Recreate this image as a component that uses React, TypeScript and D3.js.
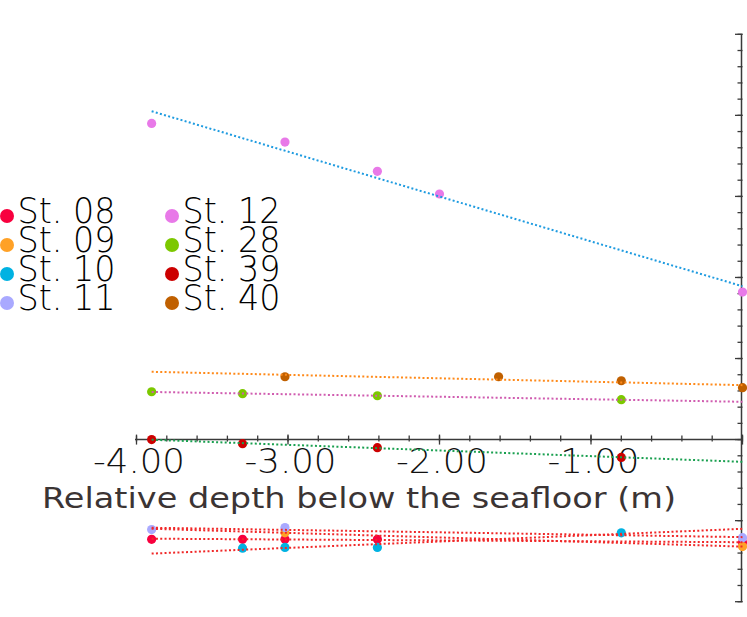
import React from "react";
import * as d3 from "d3";

const W = 747;
const H = 617;

const seriesNames = ["St. 08", "St. 09", "St. 10", "St. 11", "St. 12", "St. 28", "St. 39", "St. 40"];
const pointColors = ["#F8003E", "#FFA126", "#00B2E2", "#A9A9FF", "#E879E8", "#7CC800", "#CC0000", "#C06000"];
const trendColors = ["#F02828", "#F02828", "#F02828", "#F02828", "#1E9BE0", "#D05CB0", "#1AA050", "#FF8A1A"];

// depth (m), value
const st08: [number, number][] = [[-3.9, -1.23], [-3.3, -1.23], [-3.02, -1.23], [-2.41, -1.23], [0, -1.27]];
const st09: [number, number][] = [[-3.02, -1.15], [0, -1.32]];
const st10: [number, number][] = [[-3.3, -1.34], [-3.02, -1.33], [-2.41, -1.33], [-0.8, -1.15]];
const st11: [number, number][] = [[-3.9, -1.11], [-3.02, -1.085], [0, -1.21]];
const st12: [number, number][] = [[-3.9, 3.9], [-3.02, 3.67], [-2.41, 3.31], [-2.0, 3.03], [0, 1.82]];
const st28: [number, number][] = [[-3.9, 0.59], [-3.3, 0.566], [-2.41, 0.541], [-0.8, 0.492]];
const st39: [number, number][] = [[-3.9, 0.0], [-3.3, -0.05], [-2.41, -0.1], [-0.8, -0.22]];
const st40: [number, number][] = [[-3.02, 0.775], [-1.61, 0.775], [-0.8, 0.726], [0, 0.64]];

const allSeries = [st08, st09, st10, st11, st12, st28, st39, st40];
const xTickLabels = ["-4.00", "-3.00", "-2.00", "-1.00"];

function regress(pts: [number, number][]) {
  const mx = d3.mean(pts, (p) => p[0]) as number;
  const my = d3.mean(pts, (p) => p[1]) as number;
  let sxy = 0, sxx = 0;
  pts.forEach(([x, y]) => { sxy += (x - mx) * (y - my); sxx += (x - mx) * (x - mx); });
  const b = sxy / sxx;
  return (x: number) => my + b * (x - mx);
}

export default function App() {
  const x = d3.scaleLinear().domain([-4, 0]).range([136.5, 742.5]);
  const y = d3.scaleLinear().domain([-2, 5]).range([601.7, 34.3]);
  const axisX = 741.5;
  const y0 = y(0);
  const allX = allSeries.flat().map((p) => p[0]);
  const xMin = d3.min(allX) as number;
  const xMax = d3.max(allX) as number;

  const xMinor = d3.range(-4, 0.001, 0.2);
  const xMajor = d3.range(-4, 0.001, 1);
  const yMinor = d3.range(-2, 5.001, 0.2);
  const yMajor = d3.range(-2, 5.001, 1);
  const font = "'DejaVu Sans', 'Noto Sans', sans-serif";

  const line = d3.line<[number, number]>().x((d) => x(d[0])).y((d) => y(d[1]));

  return (
    <svg width={W} height={H} style={{ position: "absolute", left: 0, top: 0, background: "#fff" }}>
      <rect width={W} height={H} fill="#fff" />
      {/* x axis */}
      <line x1={135} x2={axisX} y1={y0} y2={y0} stroke="#3a3a3a" strokeWidth={1.5} />
      {xMinor.map((v, i) => (
        <line key={"xm" + i} x1={x(v)} x2={x(v)} y1={y0 - 4} y2={y0 + 2} stroke="#3a3a3a" strokeWidth={1.3} />
      ))}
      {xMajor.map((v, i) => (
        <line key={"xM" + i} x1={x(v)} x2={x(v)} y1={y0 - 5} y2={y0 + 5} stroke="#3a3a3a" strokeWidth={1.3} />
      ))}
      {xTickLabels.map((t, i) => (
        <text key={"xl" + i} x={x(xMajor[i]) + 2.5} y={473} textAnchor="middle" fontFamily={font} fontSize={34}
          fontWeight={300} textLength={92} lengthAdjust="spacingAndGlyphs" fill="#111">{t}</text>
      ))}
      <text x={42} y={508} fontFamily={font} fontSize={29} fill="#3b3434" textLength={634} lengthAdjust="spacingAndGlyphs">
        Relative depth below the seafloor (m)
      </text>
      {/* y axis */}
      <line x1={axisX} x2={axisX} y1={y(5)} y2={y(-2)} stroke="#3a3a3a" strokeWidth={1.5} />
      {yMinor.map((v, i) => (
        <line key={"ym" + i} x1={axisX - 4} x2={axisX + 1} y1={y(v)} y2={y(v)} stroke="#3a3a3a" strokeWidth={1.3} />
      ))}
      {yMajor.map((v, i) => (
        <line key={"yM" + i} x1={axisX - 6.5} x2={axisX + 1} y1={y(v)} y2={y(v)} stroke="#3a3a3a" strokeWidth={1.3} />
      ))}
      {/* points */}
      {allSeries.map((s, si) => (
        <g key={"p" + si}>
          {s.map((p, pi) => (
            <circle key={pi} cx={x(p[0])} cy={y(p[1])} r={4.6} fill={pointColors[si]} />
          ))}
        </g>
      ))}
      {/* trend lines */}
      {allSeries.map((s, si) => {
        const f = regress(s);
        const pts: [number, number][] = [[xMin, f(xMin)], [xMax, f(xMax)]];
        return (
          <path key={"t" + si} d={line(pts) || ""} fill="none" stroke={trendColors[si]} strokeWidth={2}
            strokeDasharray="2 2.3" />
        );
      })}
      {/* legend */}
      {seriesNames.map((n, i) => {
        const col = Math.floor(i / 4);
        const row = i % 4;
        const cx = col === 0 ? 7 : 172;
        const tx = col === 0 ? 17.5 : 182.5;
        const base = 223 + row * 29;
        return (
          <g key={"l" + i}>
            <circle cx={cx} cy={base - 7} r={7} fill={pointColors[i]} />
            <text x={tx} y={base} fontFamily={font} fontSize={35} fontWeight={300} fill="#000" textLength={98}
              lengthAdjust="spacingAndGlyphs">{n}</text>
          </g>
        );
      })}
    </svg>
  );
}
